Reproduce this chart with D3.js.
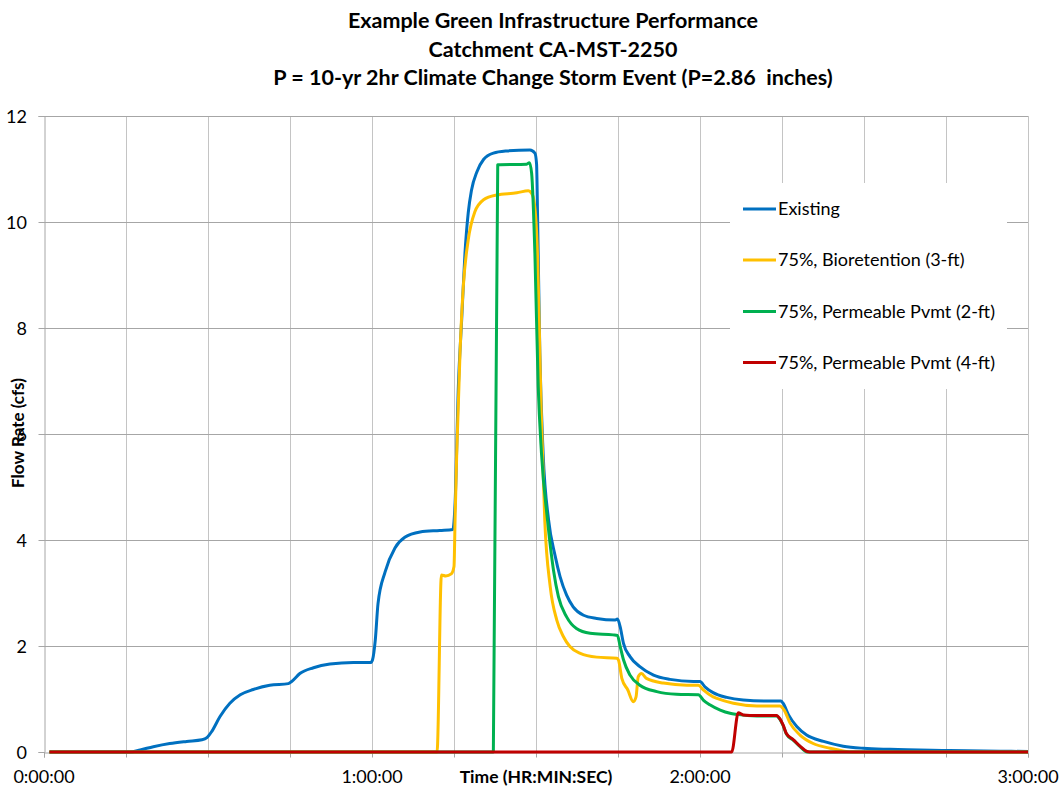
<!DOCTYPE html>
<html>
<head>
<meta charset="utf-8">
<script src="https://cdn.jsdelivr.net/npm/d3@7"></script>
<style>
  body { margin: 0; background: #fff; }
  text { font-family: Lato, "Noto Sans", sans-serif; fill: #000; }
</style>
</head>
<body>
<div id="chart"></div>
<script>
// titles and axis text
var titleLines = [
    "Example Green Infrastructure Performance",
    "Catchment CA-MST-2250",
    "P = 10-yr 2hr Climate Change Storm Event (P=2.86  inches)"
];
var yTitle = "Flow Rate (cfs)";
var xTitle = "Time (HR:MIN:SEC)";
var yTicks = [0, 2, 4, 6, 8, 10, 12];
var xGridMinutes = d3.range(0, 181, 15);   // 15 minute grid
var xLabelMinutes = [0, 60, 120, 180];      // labelled hours

// series: [time in minutes, flow in cfs]
var existing = [[1,0],[15.7,0],[17.6,0.04],[20,0.10],[23,0.16],[26.1,0.20],[28.9,0.23],[29.8,0.27],[30.7,0.39],
    [32.2,0.67],[34,0.92],[35.9,1.08],[38.3,1.18],[41.3,1.26],[44.7,1.29],[45.3,1.33],[46.8,1.48],[49.3,1.59],
    [52.3,1.66],[56.6,1.69],[59.8,1.69],[60.1,1.74],[60.6,2.11],[61.1,2.8],[62.4,3.4],[64.2,3.85],[66,4.05],
    [68.8,4.15],[72.4,4.18],[74.8,4.20],[75.2,4.7],[75.8,6.9],[76.4,8.15],[77,9.4],[77.6,10.17],[78.2,10.6],
    [79.2,10.95],[80.4,11.18],[82.2,11.3],[84.6,11.34],[88.9,11.36],[89.8,11.3],[90.1,11.1],[90.3,10.04],
    [90.7,7.53],[91.3,5.64],[92.3,4.38],[93.5,3.7],[94.4,3.31],[95.6,2.96],[96.8,2.74],[98.7,2.58],[101.1,2.52],
    [104.5,2.49],[104.9,2.51],[105.4,2.36],[106,2.05],[107.2,1.8],[109,1.61],[111.5,1.45],[114.5,1.37],
    [118.8,1.33],[120,1.33],[120.9,1.23],[122.4,1.12],[124.9,1.03],[127.9,0.98],[132.2,0.96],[134.8,0.96],
    [135.2,0.92],[136.2,0.70],[137.7,0.48],[139.5,0.32],[142.6,0.20],[146.2,0.11],[149.9,0.07],[154.8,0.05],
    [165.7,0.03],[174.9,0.015],[180,0.01]];

var bioretention3ft = [[1,0],[71.9,0],[72.7,3.34],[73.5,3.32],[74.5,3.36],[75,3.5],[75.2,4.4],[75.5,5.64],
    [76.1,7.53],[76.7,8.78],[77.6,9.66],[78.8,10.19],[80.4,10.42],[82.8,10.51],[86.5,10.55],[88.6,10.59],
    [89.2,10.54],[89.6,10.42],[90.2,9.6],[91,6.26],[91.6,4.38],[92.6,3.12],[93.8,2.49],[95,2.18],[96.2,1.99],
    [98.1,1.86],[101.1,1.79],[104.8,1.77],[105.1,1.73],[105.7,1.39],[106.8,1.17],[107.8,0.95],[108.3,1.04],
    [108.7,1.42],[109.3,1.48],[110.2,1.39],[113.3,1.30],[117.6,1.26],[119.7,1.26],[120.6,1.17],[122.4,1.04],
    [123.1,1.01],[126.1,0.92],[130.4,0.87],[134.6,0.87],[135.4,0.79],[136.5,0.54],[138.3,0.32],[140.7,0.16],
    [143.8,0.07],[146.2,0.02],[148,0],[180,0]];

var pervious2ft = [[1,0],[82.2,0],[83,11.08],[88.3,11.09],[88.8,11.12],[89.2,10.92],[89.8,9.4],[90.4,6.9],
    [91,5.64],[92.1,4.38],[93.2,3.43],[94.1,2.93],[95.6,2.55],[97.4,2.33],[99.9,2.24],[104.1,2.21],[104.9,2.20],
    [105.4,1.99],[106,1.74],[107.2,1.45],[109,1.26],[112.1,1.14],[115.7,1.09],[119.7,1.08],[120.6,0.98],
    [121.8,0.89],[123.7,0.79],[125.5,0.73],[126.7,0.71],[130.4,0.68],[134,0.68],[134.6,0.62],[135.2,0.50],
    [135.8,0.34],[137.1,0.22],[138.3,0.10],[139.6,0],[180,0]];

var pervious4ft = [[1,0],[125.8,0],[127,0.74],[127.9,0.70],[130.4,0.69],[134,0.69],[134.6,0.63],[135.2,0.51],
    [135.8,0.35],[137.1,0.23],[138.3,0.11],[139.6,0.01],[140.5,0],[180,0]];

var seriesNames = ["Existing", "75%, Bioretention (3-ft)", "75%, Permeable Pvmt (2-ft)", "75%, Permeable Pvmt (4-ft)"];
var seriesColors = ["#0070C0", "#FFC000", "#00B050", "#C00000"];
var seriesData = [existing, bioretention3ft, pervious2ft, pervious4ft];

var width = 1061, height = 788;
var plot = { left: 44, top: 116, right: 1028, bottom: 752 };

var svg = d3.select("#chart").append("svg")
    .attr("width", width)
    .attr("height", height);

var x = d3.scaleLinear().domain([0, 180]).range([plot.left, plot.right]);
var y = d3.scaleLinear().domain([0, 12]).range([plot.bottom, plot.top]);

function hms(m) {
    var h = Math.floor(m / 60), mm = m % 60;
    return h + ":" + (mm < 10 ? "0" : "") + mm + ":00";
}

// vertical grid lines
svg.append("g").selectAll("line")
    .data(xGridMinutes.slice(1))
    .enter().append("line")
    .attr("x1", function(d) { return Math.round(x(d)) + 0.5; })
    .attr("x2", function(d) { return Math.round(x(d)) + 0.5; })
    .attr("y1", plot.top)
    .attr("y2", plot.bottom)
    .style("stroke", "#C4C4C4");

// horizontal grid lines
svg.append("g").selectAll("line")
    .data(yTicks.slice(1))
    .enter().append("line")
    .attr("x1", plot.left)
    .attr("x2", plot.right)
    .attr("y1", function(d) { return Math.round(y(d)) + 0.5; })
    .attr("y2", function(d) { return Math.round(y(d)) + 0.5; })
    .style("stroke", "#A6A6A6");

// axes
var xAxis = d3.axisBottom(x).tickValues(xGridMinutes).tickSize(5).tickFormat("");
svg.append("g")
    .attr("transform", "translate(0," + (plot.bottom + 0.5) + ")")
    .call(xAxis)
    .call(function(g) {
        g.selectAll("path, line").style("stroke", "#A6A6A6");
    });

var yAxis = d3.axisLeft(y).tickValues(yTicks).tickSize(6).tickFormat("");
svg.append("g")
    .attr("transform", "translate(" + (plot.left + 0.5) + ",0)")
    .call(yAxis)
    .call(function(g) {
        g.selectAll("path, line").style("stroke", "#A6A6A6");
    });

// tick labels
svg.append("g").selectAll("text")
    .data(yTicks)
    .enter().append("text")
    .attr("x", 27)
    .attr("y", function(d) { return y(d) + 6.5; })
    .attr("text-anchor", "end")
    .style("font-size", "18px")
    .text(function(d) { return d; });

svg.append("g").selectAll("text")
    .data(xLabelMinutes)
    .enter().append("text")
    .attr("x", function(d) { return x(d); })
    .attr("y", 783)
    .attr("text-anchor", "middle")
    .style("font-size", "18px")
    .text(hms);

// axis titles
svg.append("text")
    .attr("x", 536)
    .attr("y", 783)
    .attr("text-anchor", "middle")
    .style("font-size", "17.5px")
    .style("font-weight", "bold")
    .text(xTitle);

svg.append("text")
    .attr("transform", "translate(24,433) rotate(-90)")
    .attr("text-anchor", "middle")
    .style("font-size", "17px")
    .style("font-weight", "bold")
    .text(yTitle);

// chart title
svg.append("g").selectAll("text")
    .data(titleLines)
    .enter().append("text")
    .attr("x", 553)
    .attr("y", function(d, i) { return 28 + i * 28.5; })
    .attr("text-anchor", "middle")
    .style("font-size", "21.5px")
    .style("font-weight", "bold")
    .style("white-space", "pre")
    .text(function(d) { return d; });

// series lines
var line = d3.line()
    .x(function(d) { return x(d[0]); })
    .y(function(d) { return y(d[1]); })
    .curve(d3.curveMonotoneX);

svg.append("g").selectAll("path")
    .data(seriesData)
    .enter().append("path")
    .attr("d", line)
    .style("fill", "none")
    .style("stroke", function(d, i) { return seriesColors[i]; })
    .style("stroke-width", 3)
    .style("stroke-linejoin", "round");

// legend
var legend = svg.append("g");
legend.append("rect")
    .attr("x", 730)
    .attr("y", 183)
    .attr("width", 277)
    .attr("height", 206)
    .style("fill", "#fff");

var legendY = [209, 260, 311.5, 362.5];
var item = legend.selectAll(".item")
    .data(seriesNames)
    .enter().append("g")
    .attr("class", "item")
    .attr("transform", function(d, i) { return "translate(0," + legendY[i] + ")"; });

item.append("line")
    .attr("x1", 743)
    .attr("x2", 776)
    .style("stroke", function(d, i) { return seriesColors[i]; })
    .style("stroke-width", 3);

item.append("text")
    .attr("x", 778)
    .attr("dy", "0.35em")
    .style("font-size", "18px")
    .text(function(d) { return d; });
</script>
</body>
</html>
